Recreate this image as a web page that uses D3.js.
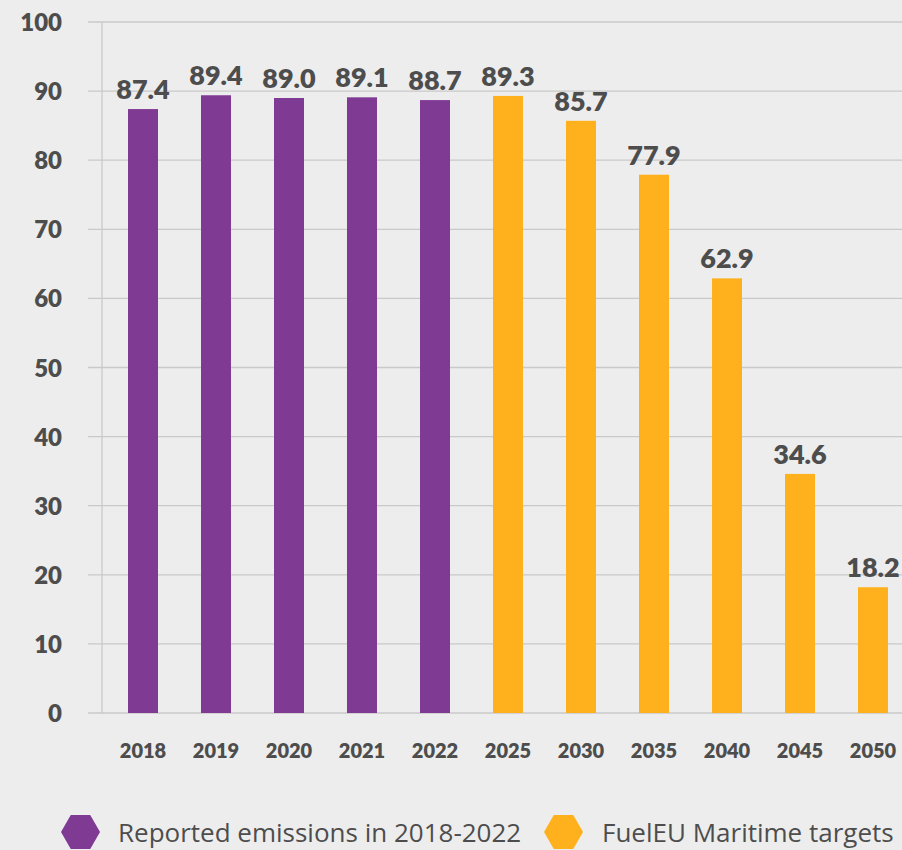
<!DOCTYPE html>
<html>
<head>
<meta charset="utf-8">
<script src="https://cdn.jsdelivr.net/npm/d3@7"></script>
<style>
  html, body { margin: 0; padding: 0; background: #ededed; }
  svg { display: block; }
</style>
</head>
<body>
<svg id="chart" width="902" height="850"></svg>
<script>
// Emission intensity by year: reported (2018-2022) and FuelEU targets (2025-2050)
const years = ["2018", "2019", "2020", "2021", "2022", "2025", "2030", "2035", "2040", "2045", "2050"];
const values = [87.4, 89.4, 89.0, 89.1, 88.7, 89.3, 85.7, 77.9, 62.9, 34.6, 18.2];
const groups = ["reported", "reported", "reported", "reported", "reported", "target", "target", "target", "target", "target", "target"];
const yTicks = [0, 10, 20, 30, 40, 50, 60, 70, 80, 90, 100];
const legendLabels = ["Reported emissions in 2018-2022", "FuelEU Maritime targets"];

const colors = { reported: "#7f3a94", target: "#feb11c" };
const textColor = "#4d4d4d";
const font = "Lato, 'Open Sans', sans-serif";
const legendFont = "'Open Sans', Lato, sans-serif";

const svg = d3.select("#chart");

const y = d3.scaleLinear().domain([0, 100]).range([713, 22]);
const x = d3.scaleBand().domain(years).range([128, 888])
  .paddingInner(43 / 73).paddingOuter(0);

// horizontal gridlines
svg.append("g").selectAll("line").data(yTicks).join("line")
  .attr("x1", 88).attr("x2", 902)
  .attr("y1", d => y(d)).attr("y2", d => y(d))
  .attr("stroke", "#c9c9c9").attr("stroke-width", 1.3);

// vertical axis line
svg.append("line")
  .attr("x1", 102).attr("x2", 102)
  .attr("y1", y(100)).attr("y2", y(0))
  .attr("stroke", "#c9c9c9").attr("stroke-width", 1.3);

// y tick labels
svg.append("g").selectAll("text").data(yTicks).join("text")
  .attr("x", 62).attr("y", d => y(d) + 9)
  .attr("text-anchor", "end")
  .attr("font-family", font).attr("font-weight", 800).attr("font-size", 24)
  .attr("fill", textColor)
  .text(d => d);

const data = years.map((yr, i) => ({ year: yr, value: values[i], group: groups[i] }));

// bars
svg.append("g").selectAll("rect").data(data).join("rect")
  .attr("x", d => x(d.year))
  .attr("width", x.bandwidth())
  .attr("y", d => y(d.value))
  .attr("height", d => y(0) - y(d.value))
  .attr("fill", d => colors[d.group]);

// value labels
svg.append("g").selectAll("text").data(data).join("text")
  .attr("x", d => x(d.year) + x.bandwidth() / 2)
  .attr("y", d => y(d.value) - 10)
  .attr("text-anchor", "middle")
  .attr("font-family", font).attr("font-weight", 800).attr("font-size", 27)
  .attr("fill", textColor)
  .text(d => d.value.toFixed(1));

// x tick labels
svg.append("g").selectAll("text").data(years).join("text")
  .attr("x", d => x(d) + x.bandwidth() / 2)
  .attr("y", 758)
  .attr("text-anchor", "middle")
  .attr("font-family", font).attr("font-weight", 800).attr("font-size", 20)
  .attr("fill", textColor)
  .text(d => d);

// legend with hexagon markers
const hex = r => {
  const pts = d3.range(6).map(k => {
    const a = Math.PI / 3 * k;
    return [r * Math.cos(a), r * Math.sin(a)];
  });
  return "M" + pts.map(p => p.join(",")).join("L") + "Z";
};
const legendItems = [
  { label: legendLabels[0], color: colors.reported, hx: 80.5, tx: 118 },
  { label: legendLabels[1], color: colors.target, hx: 563.5, tx: 602 }
];
const lg = svg.append("g").selectAll("g").data(legendItems).join("g");
lg.append("path")
  .attr("d", hex(19.5))
  .attr("transform", d => `translate(${d.hx},832)`)
  .attr("fill", d => d.color);
lg.append("text")
  .attr("x", d => d.tx).attr("y", 842)
  .attr("font-family", legendFont).attr("font-weight", 400).attr("font-size", 26)
  .attr("fill", textColor)
  .text(d => d.label);
</script>
</body>
</html>
